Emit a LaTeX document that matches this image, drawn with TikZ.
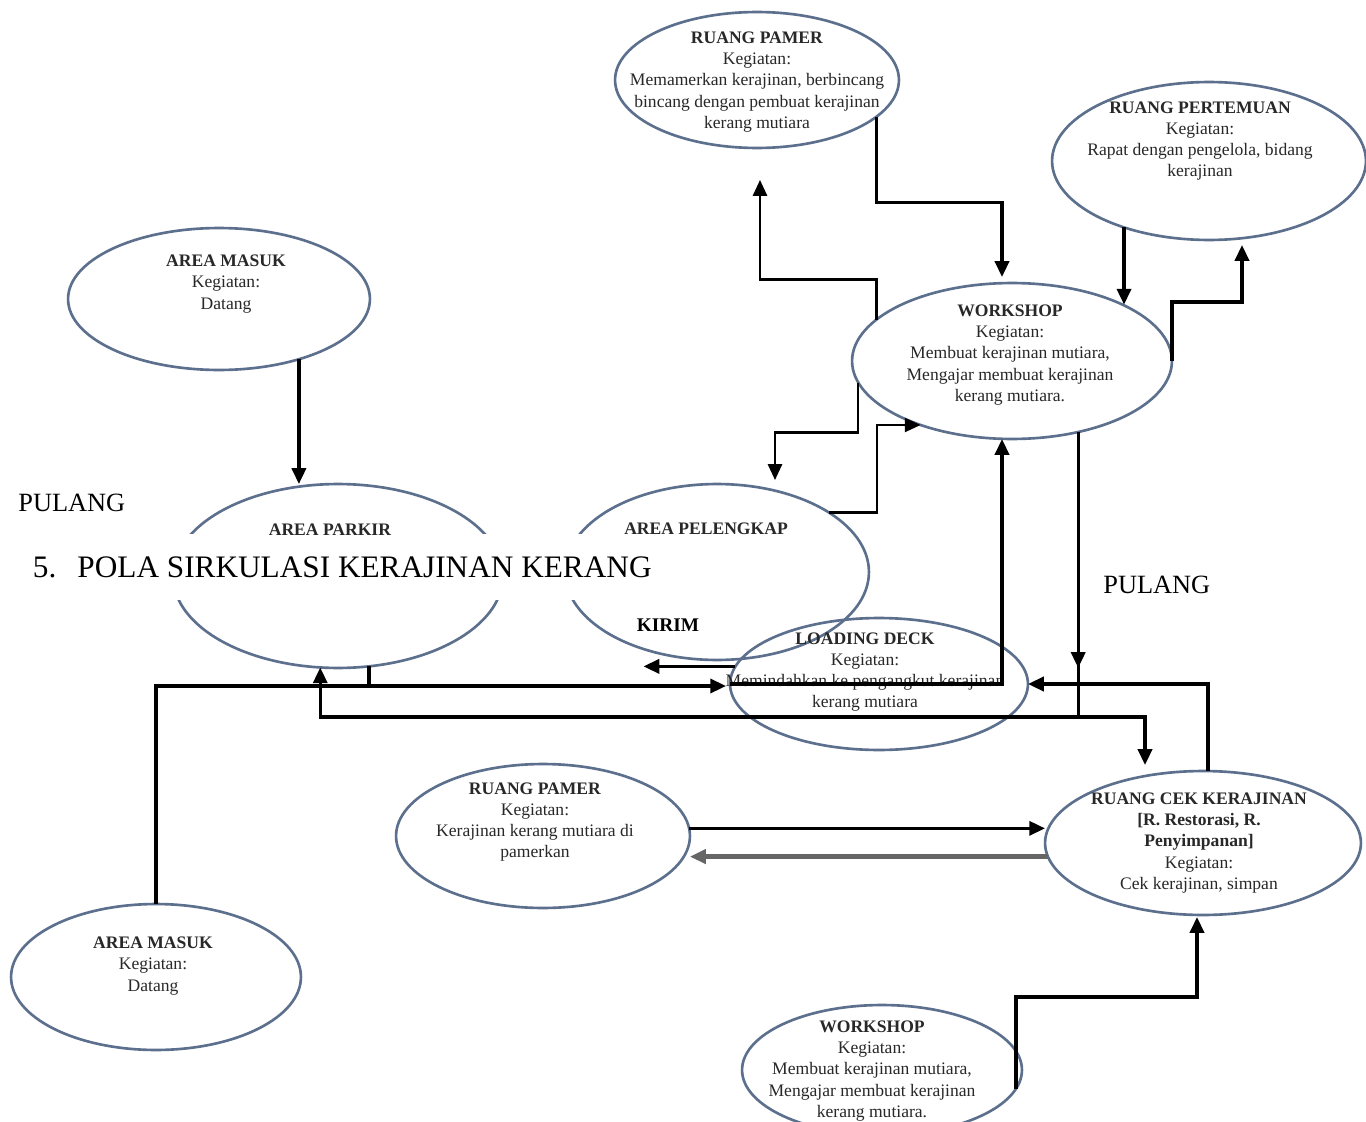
\documentclass[tikz,border=0pt]{standalone}
\usepackage{fontspec}
\setmainfont{Liberation Serif}
\usetikzlibrary{shapes.geometric,arrows.meta,calc}
\definecolor{ellcol}{RGB}{92,112,142}
\definecolor{txtcol}{RGB}{40,40,40}
\begin{document}
\begin{tikzpicture}[x=0.02cm,y=-0.02cm,
  room/.style 2 args={ellipse,draw=ellcol,line width=1.5pt,inner sep=0pt,outer sep=0pt,
    minimum width=#1*0.04cm,minimum height=#2*0.04cm},
  info/.style={align=center,font=\fontsize{10}{12}\selectfont,text=txtcol},
  label/.style={font=\fontsize{15}{18}\selectfont,inner sep=0pt},
  tip/.style={-{Triangle[length=9pt,width=8pt]}},
  flow/.style={line width=1.9pt,tip},
  flowthin/.style={line width=1.3pt,tip},
  plain/.style={line width=1.9pt}]

\fill[white] (0,0) rectangle (1366,1122);
\useasboundingbox (0,0) rectangle (1366,1122);

% rooms
\node[room={142}{68}] (rp1) at (757,80) {};
\node[room={157}{79}] (rpt) at (1209,161) {};
\node[room={151}{71}] (am1) at (219,299) {};
\node[room={160}{78}] (ws1) at (1012,361) {};
\node[room={165}{92}] (ap)  at (338,576) {};
\node[room={152}{88}] (apl) at (717,572) {};
\node[room={149}{66}] (ld)  at (879,684) {};
\node[room={147}{72}] (rp2) at (543,836) {};
\node[room={158}{72}] (rck) at (1203,843) {};
\node[room={145}{73}] (am2) at (156,977) {};
\node[room={140}{65}] (ws2) at (882,1070) {};

% title band
\node[fill=white,anchor=west,minimum height=66*0.02cm,inner xsep=6pt,
      font=\fontsize{17.8}{20}\selectfont] (title) at (22,567)
  {5.\hspace{12pt}POLA SIRKULASI KERAJINAN KERANG};

% room texts
\node[info] (t-rp1) at (757,82) {\textbf{RUANG PAMER}\\Kegiatan:\\Memamerkan kerajinan, berbincang\\bincang dengan pembuat kerajinan\\kerang mutiara};
\node[info] (t-rpt) at (1200,141) {\textbf{RUANG PERTEMUAN}\\Kegiatan:\\Rapat dengan pengelola, bidang\\kerajinan};
\node[info] (t-am1) at (226,284) {\textbf{AREA MASUK}\\Kegiatan:\\Datang};
\node[info] (t-ws1) at (1010,355) {\textbf{WORKSHOP}\\Kegiatan:\\Membuat kerajinan mutiara,\\Mengajar membuat kerajinan\\kerang mutiara.};
\node[info] (t-ap)  at (330,530) {\textbf{AREA PARKIR}};
\node[info] (t-apl) at (706,529) {\textbf{AREA PELENGKAP}};
\node[info] (t-ld)  at (865,672) {\textbf{LOADING DECK}\\Kegiatan:\\Memindahkan ke pengangkut kerajinan\\kerang mutiara};
\node[info] (t-rp2) at (535,822) {\textbf{RUANG PAMER}\\Kegiatan:\\Kerajinan kerang mutiara di\\pamerkan};
\node[info] (t-rck) at (1199,843) {\textbf{RUANG CEK KERAJINAN}\\\textbf{[R. Restorasi, R.}\\\textbf{Penyimpanan]}\\Kegiatan:\\Cek kerajinan, simpan};
\node[info] (t-am2) at (153,966) {\textbf{AREA MASUK}\\Kegiatan:\\Datang};
\node[info] (t-ws2) at (872,1071) {\textbf{WORKSHOP}\\Kegiatan:\\Membuat kerajinan mutiara,\\Mengajar membuat kerajinan\\kerang mutiara.};

% free labels
\node[label,anchor=west] (pulang1) at (18,503) {PULANG};
\node[label,anchor=west] (pulang2) at (1103,585) {PULANG};
\node[font=\fontsize{11}{13}\selectfont\bfseries,inner sep=0pt] (kirim) at (668,625) {KIRIM};

% circulation
\draw[flow] (am1.-37.4) -- (am1.-37.4 |- ap.north);
\draw[flowthin] (ws1.163.2) -- ++(0,-40) -| ($(rp1.south)+(3,32)$);
\draw[flow] (rp1.-17.3) -- ++(0,86) -| ($(ws1.north)+(-10,-6)$);
\draw[flow] (rpt.-142.9) -- (rpt.-142.9 |- ws1.27.2);
\draw[flow] (ws1.east) -- ++(0,-59) -| ($(rpt.south)+(33,5)$);
\draw[flowthin] (ws1.-172.9) -- ++(0,50) -| ($(apl.north)+(58,-4)$);
\draw[flowthin] (apl.28.4) -- ++(48,0) |- (ws1.-145);

\draw[flow] (am2.north) |- ($(ld.west)+(-4,2)$);
\draw[plain] (ap.-71.7) -- (ap.-71.7 |- ld.west);
\draw[flow] (ld.west) -| ($(ws1.south)+(-10,0)$);

\coordinate (jn) at ($(ws1.-47.1)+(0,285)$);
\draw[flow] (ws1.-47.1) -- ($(ws1.-47.1)+(0,236)$);
\draw[plain] (ws1.-47.1) -- (jn);
\draw[flow] (jn) -| (ap.-101.1);
\draw[flow] (jn) -| ($(rck.north)+(-58,-6)$);

\draw[flow] (ld.173.3) -- ++(-92,0);
\draw[flow] (rck.86.8) |- (ld.east);
\draw[flow] (rp2.3.1) -- (rp2.3.1 -| rck.west);
\draw[flow,draw=black!60,line width=2.6pt] (rck.-175.2) -- (rck.-175.2 -| rp2.east);
\draw[flow] (ws2.-8) |- ($(rck.south)+(-6,82)$) -- ($(rck.south)+(-6,2)$);
\end{tikzpicture}
\end{document}
